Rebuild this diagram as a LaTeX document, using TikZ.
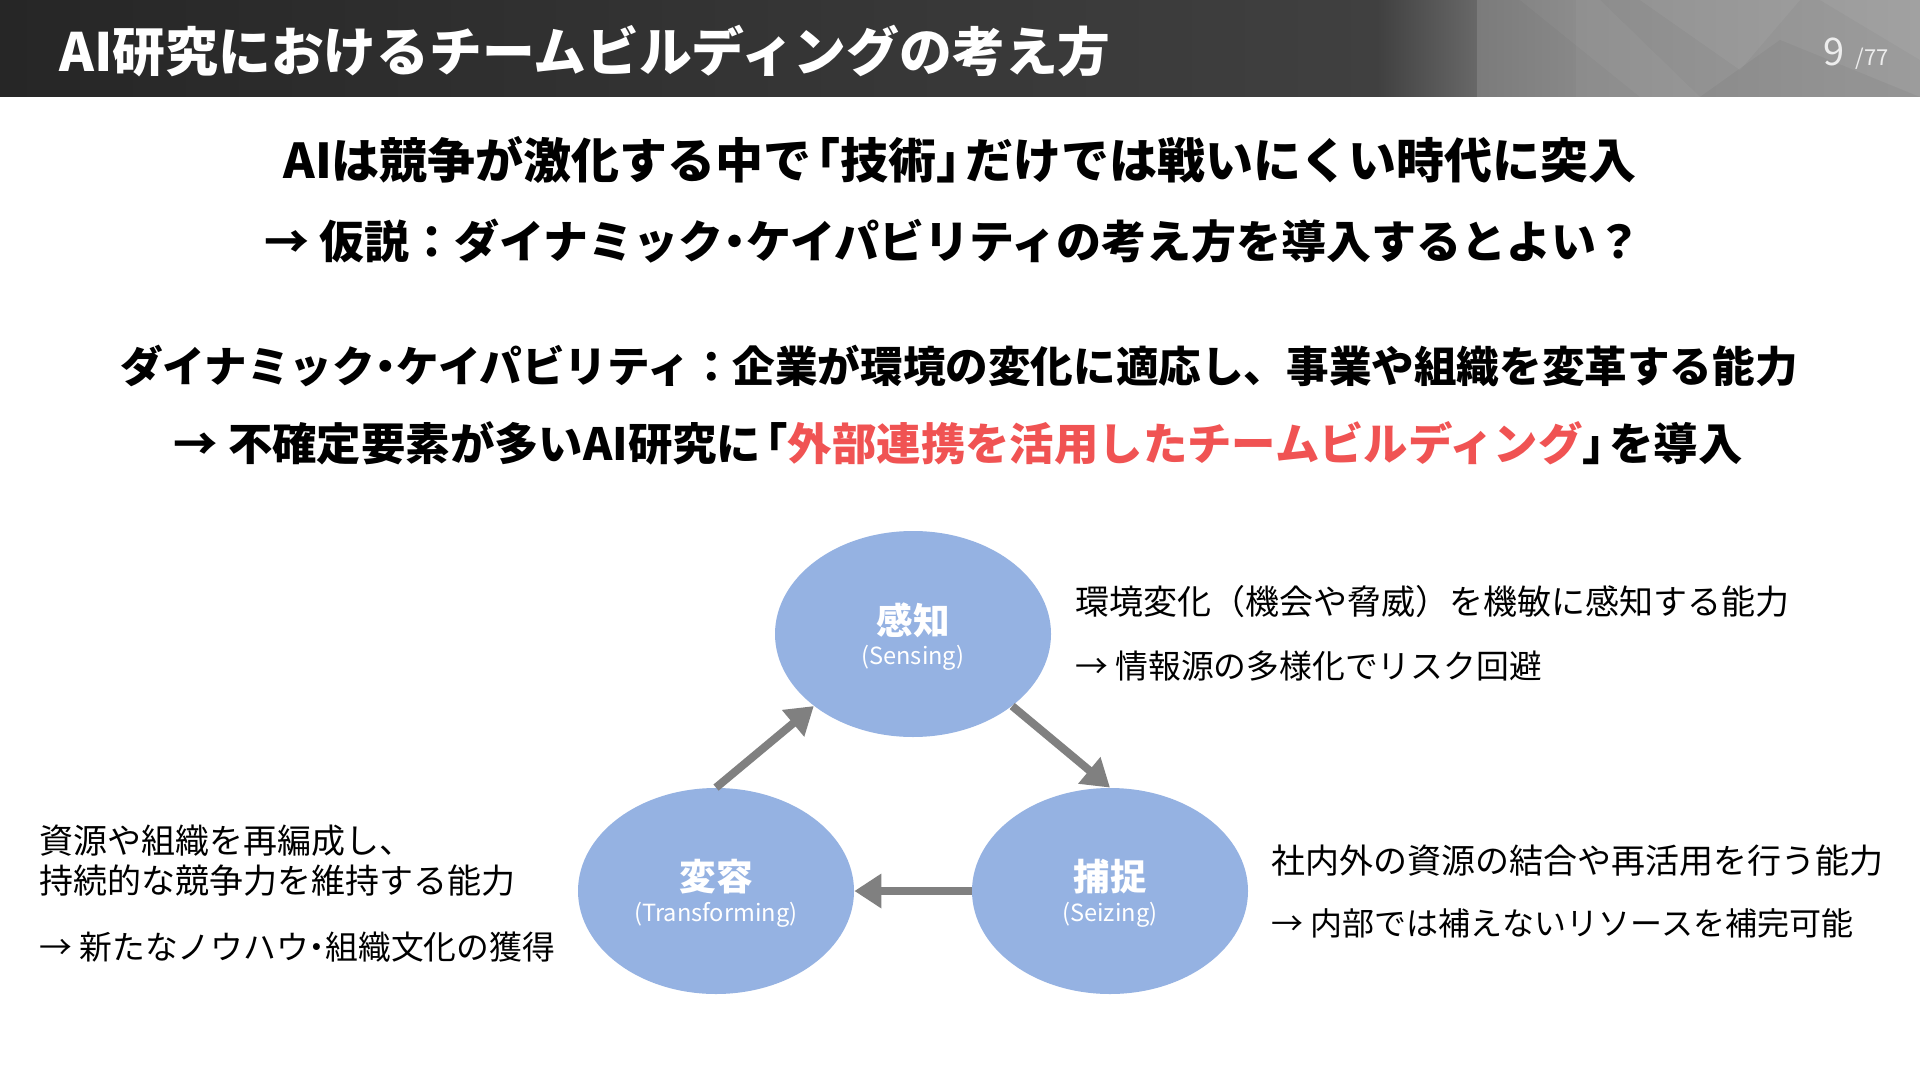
\documentclass[tikz,border=0pt]{standalone}
\usepackage{fontspec}
\setmainfont{Noto Sans CJK JP}
\usetikzlibrary{arrows.meta,shapes.geometric}
\definecolor{ellfill}{HTML}{95B2E2}
\definecolor{arrowgray}{HTML}{808080}
\definecolor{hired}{HTML}{F05353}
\definecolor{hA}{HTML}{262626}
\definecolor{hB}{HTML}{404040}
\definecolor{hC}{HTML}{686868}
\definecolor{hD}{HTML}{7B7B7B}
\definecolor{hE}{HTML}{888888}
\definecolor{hF}{HTML}{8C8C8C}
\definecolor{hG}{HTML}{9C9C9C}
\definecolor{pgcol}{HTML}{EDEDED}
\newcommand{\nkg}{\kern-.25em・\kern-.25em}
\newcommand{\lkb}{\kern-.4em「}
\newcommand{\rkb}{」\kern-.4em}
\tikzset{
  cyc/.style={ellipse, fill=ellfill, minimum width=138pt, minimum height=103pt, inner sep=0pt},
  ctitle/.style={text=white, inner sep=0pt, font=\bfseries\fontsize{18.3}{18.3}\selectfont},
  csub/.style={text=white, inner sep=0pt, font=\fontsize{11.8}{11.8}\selectfont},
  flow/.style={draw=arrowgray, line width=4pt, -{Triangle[width=16.5pt,length=13.5pt]}},
  desc/.style={anchor=west, inner sep=0pt, font=\fontsize{#1}{#1}\selectfont},
  desc/.default=17,
  headline/.style={inner sep=0pt, font=\bfseries\fontsize{#1}{#1}\selectfont},
}
\begin{document}
\begin{tikzpicture}[x=0.5pt,y=-0.5pt]
\useasboundingbox (0,0) rectangle (1920,1080);
\fill[white] (0,0) rectangle (1920,1080);
% header bar
\shade[left color=hA, right color=hB] (0,0) rectangle (1377,97);
\shade[left color=hB, right color=hC] (1377,0) rectangle (1477,97);
\shade[left color=hD, right color=hE] (1477,0) rectangle (1576,97);
\shade[left color=hF, right color=hG] (1576,0) rectangle (1920,97);
\fill[white, opacity=0.04] (1520,0) -- (1600,0) -- (1700,97) -- (1640,97) -- cycle;
\fill[white, opacity=0.05] (1640,0) -- (1800,0) -- (1740,70) -- cycle;
\fill[black, opacity=0.04] (1700,97) -- (1780,40) -- (1920,97) -- cycle;
\fill[white, opacity=0.05] (1820,0) -- (1920,0) -- (1920,60) -- cycle;
\node[anchor=west, inner sep=0pt, text=white, font=\bfseries\fontsize{26.4}{26.4}\selectfont] (title) at (59,51) {AI研究におけるチームビルディングの考え方};
\node[anchor=base west, inner sep=0pt, text=pgcol, font=\fontsize{19}{19}\selectfont] (pgnum) at (1823,66) {9};
\node[anchor=base west, inner sep=0pt, text=pgcol, font=\fontsize{11}{11}\selectfont] (pgtot) at (1855,66) {/77};
% headline lines
\node[headline=24] (l1) at (960,160) {AIは競争が激化する中で\lkb 技術\rkb だけでは戦いにくい時代に突入};
\node[headline=22.5] (l2) at (953,241) {→ 仮説：ダイナミック\nkg ケイパビリティの考え方を導入するとよい？};
\node[headline=21.3] (l3) at (959,366) {ダイナミック\nkg ケイパビリティ：企業が環境の変化に適応し、事業や組織を変革する能力};
\node[headline=22.2] (l4) at (958,443) {→ 不確定要素が多いAI研究に\lkb\textcolor{hired}{外部連携を活用したチームビルディング}\rkb を導入};
% cycle
\node[cyc] (sense) at (913,634) {};
\node[cyc] (seize) at (1110,891) {};
\node[cyc] (trans) at (716,891) {};
\node[ctitle] (senset) at ([yshift=7pt]sense.center) {感知};
\node[csub] (senses) at ([yshift=-12pt]sense.center) {(Sensing)};
\node[ctitle] (seizet) at ([yshift=7pt]seize.center) {捕捉};
\node[csub] (seizes) at ([yshift=-12pt]seize.center) {(Seizing)};
\node[ctitle] (transt) at ([yshift=7pt]trans.center) {変容};
\node[csub] (transs) at ([yshift=-12pt]trans.center) {(Transforming)};
\draw[flow] (trans.north) -- (sense.216);
\draw[flow] (sense.-36) -- (seize.north);
\draw[flow] (seize.west) -- (trans.east);
% descriptions
\node[desc] (d1a) at (1075,602) {環境変化（機会や脅威）を機敏に感知する能力};
\node[desc=16.4] (d1b) at (1075,666) {→ 情報源の多様化でリスク回避};
\node[desc] (d2a) at (1271,861) {社内外の資源の結合や再活用を行う能力};
\node[desc=16] (d2b) at (1271,923) {→ 内部では補えないリソースを補完可能};
\node[desc] (d3a) at (39,841) {資源や組織を再編成し、};
\node[desc] (d3b) at (39,881) {持続的な競争力を維持する能力};
\node[desc=16.4] (d3c) at (39,947) {→ 新たなノウハウ\nkg 組織文化の獲得};
\end{tikzpicture}
\end{document}
